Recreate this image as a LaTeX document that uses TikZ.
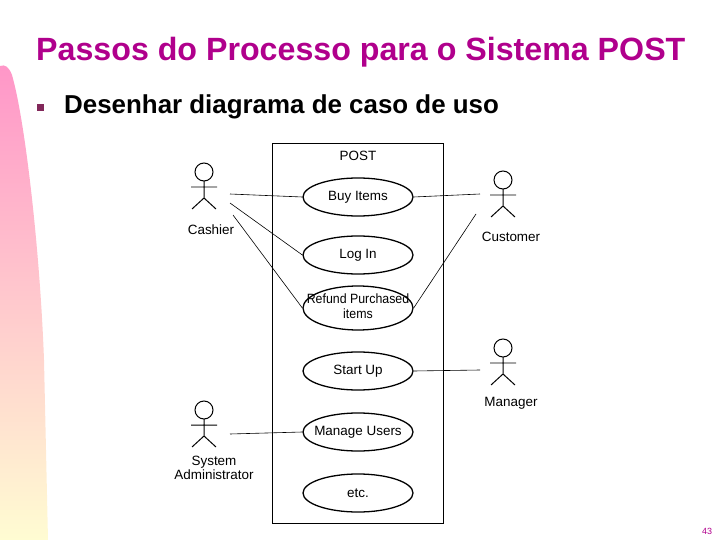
\documentclass[tikz,border=0pt]{standalone}
\usepackage{fontspec}
\setmainfont{Liberation Sans}
\usetikzlibrary{shapes.geometric}
\definecolor{titlec}{RGB}{176,0,140}
\definecolor{bulletc}{RGB}{130,40,90}
\definecolor{pinkc}{RGB}{255,150,200}
\definecolor{yelc}{RGB}{255,252,210}
\newcommand\nowid[1]{\makebox[0pt]{#1}}
\begin{document}
\begin{tikzpicture}[x=1bp,y=-1bp,
  uc/.style={draw,line width=1.3pt,ellipse,minimum width=110bp,minimum height=38bp,inner sep=0pt,font=\fontsize{13.5}{14.5}\selectfont},
  lbl/.style={font=\fontsize{13.5}{14.5}\selectfont,align=center,inner sep=0pt},
  conn/.style={line width=0.6pt},
  stick/.style={line width=1pt}]
\useasboundingbox (0,0) rectangle (720,540);
% gradient strip
\shade[top color=pinkc,bottom color=yelc]
  (0,540) -- (0,66) .. controls (5,64) and (9,67) .. (12,75)
  .. controls (25,120) and (40,250) .. (44,360) -- (48,540) -- cycle;
% title
\node[anchor=west,text=titlec,font=\bfseries\fontsize{32.3}{36}\selectfont,inner sep=0pt] (title) at (36,52) {Passos do Processo para o Sistema POST};
\node[fill=bulletc,minimum size=7bp,inner sep=0pt] (bul) at (40,108) {};
\node[anchor=west,font=\bfseries\fontsize{26}{30}\selectfont,inner sep=0pt] (sub) at (64,107) {Desenhar diagrama de caso de uso};
% system box
\draw[line width=0.8pt] (272,143) rectangle (443,523);
\node[lbl] (post) at (358,156) {POST};
% use cases
\node[uc] (buy) at (358,197) {\nowid{Buy Items}};
\node[uc] (login) at (358,255) {\nowid{Log In}};
\node[uc,minimum height=44bp] (refund) at (358,308) {\nowid{\scalebox{0.92}[1]{\begin{tabular}{@{}c@{}}Refund Purchased\\[1pt]items\end{tabular}}}};
\node[uc] (startup) at (358,371) {\nowid{Start Up}};
\node[uc] (manage) at (358,432) {\nowid{Manage Users}};
\node[uc] (etc) at (358,493) {\nowid{etc.}};
% actors
\newcommand\stickman[2]{%
  \draw[stick] (#1,#2) circle (9);
  \draw[stick] (#1,#2+9) -- (#1,#2+26) (#1-13,#2+15) -- (#1+13,#2+15)
    (#1-12,#2+37) -- (#1,#2+26) -- (#1+12,#2+37);}
\stickman{204}{172}
\stickman{503}{180}
\stickman{503}{348}
\stickman{204}{410}
\node[lbl] (cashier) at (211,230) {Cashier};
\node[lbl] (customer) at (511,237) {Customer};
\node[lbl] (manager) at (511,403) {Manager};
\node[lbl] (sysadm) at (214,468) {System\\Administrator};
\coordinate (c1) at (230,194);
\coordinate (c2) at (230,203);
\coordinate (c3) at (233,215);
\coordinate (u1) at (480,194);
\coordinate (u2) at (476,214);
\coordinate (m1) at (480,370);
\coordinate (s1) at (230,434);
\draw[conn] (c1) -- (buy.west);
\draw[conn] (c2) -- (login.west);
\draw[conn] (c3) -- (refund.west);
\draw[conn] (u1) -- (buy.east);
\draw[conn] (u2) -- (refund.east);
\draw[conn] (m1) -- (startup.east);
\draw[conn] (s1) -- (manage.west);
\node[text=titlec,font=\fontsize{9}{10}\selectfont,inner sep=0pt] (pg) at (707,531) {43};
\end{tikzpicture}
\end{document}
